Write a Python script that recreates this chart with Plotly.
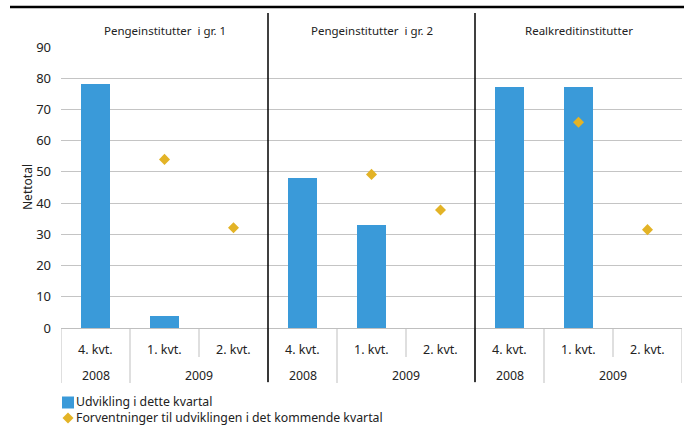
import plotly.graph_objects as go

# data
groups = ["Pengeinstitutter  i gr. 1", "Pengeinstitutter  i gr. 2", "Realkreditinstitutter"]
quarters = ["4. kvt.", "1. kvt.", "2. kvt."]
years = ["2008", "2009"]
udvikling = [78.3, 4.0, None, 48.2, 32.9, None, 77.3, 77.3, None]
forventninger = [None, 54.0, 32.1, None, 49.2, 37.8, None, 65.9, 31.5]
series_names = ["Udvikling i dette kvartal",
                "Forventninger til udviklingen i det kommende kvartal"]

BLUE = "#3a9ad9"
GOLD = "#e3b326"
FONT = "Noto Sans"
TXT = "#222"

x = list(range(len(groups) * len(quarters)))

fig = go.Figure()
fig.add_trace(go.Bar(x=x, y=udvikling, name=series_names[0], showlegend=False,
                     marker=dict(color=BLUE, line=dict(width=0)), width=0.41))
fig.add_trace(go.Scatter(x=x, y=forventninger, mode="markers", name=series_names[1],
                         showlegend=False,
                         marker=dict(symbol="diamond", size=8.5, color=GOLD)))

shapes = []
annotations = []
plot_w = 621.0
plot_h = 281.0


def py(pix):
    # pixel row -> paper y
    return (328 - pix) / plot_h


def px_(pix):
    # pixel column -> paper x
    return (pix - 61) / plot_w


def label(xv, row, text, size=12.5, xref="x"):
    return dict(x=xv, y=py(row), xref=xref, yref="paper", text=text,
                xanchor="center", yanchor="middle", showarrow=False,
                font=dict(size=size, color=TXT))


# group titles, quarter / year labels and separators under the axis
for g, gname in enumerate(groups):
    base = g * 3
    annotations.append(label(base + 1, 30, gname, size=11.5))
    for q, qname in enumerate(quarters):
        annotations.append(label(base + q, 349, qname))
    annotations.append(label(base, 376, years[0], size=12.3))
    annotations.append(label(base + 1.5, 376, years[1], size=12.3))
    # long at year boundaries, short between quarters of the same year
    for b, bottom in [(base - 0.5, 383), (base + 0.5, 383), (base + 1.5, 357)]:
        shapes.append(dict(type="line", xref="x", yref="paper", x0=b, x1=b,
                           y0=0, y1=py(bottom), line=dict(color="#bfbfbf", width=1)))
shapes.append(dict(type="line", xref="x", yref="paper", x0=8.5, x1=8.5,
                   y0=0, y1=py(383), line=dict(color="#bfbfbf", width=1)))

# black dividers between institution groups
for b in [2.5, 5.5]:
    shapes.append(dict(type="line", xref="x", yref="paper", x0=b, x1=b,
                       y0=py(13), y1=py(382), line=dict(color="black", width=1.5)))

# top rule
shapes.append(dict(type="line", xref="paper", yref="paper", x0=px_(10), x1=px_(690),
                   y0=py(7), y1=py(7), line=dict(color="black", width=2.5)))

# legend drawn below the chart
shapes.append(dict(type="rect", xref="paper", yref="paper",
                   x0=px_(62), x1=px_(74), y0=py(396.5), y1=py(408.5),
                   fillcolor=BLUE, line=dict(width=0)))
dx, dy = 5.5 / plot_w, 5.5 / plot_h
cx, cy = px_(68), py(418)
shapes.append(dict(type="path", xref="paper", yref="paper",
                   path=f"M {cx - dx} {cy} L {cx} {cy + dy} L {cx + dx} {cy} L {cx} {cy - dy} Z",
                   fillcolor=GOLD, line=dict(width=0)))
annotations.append(dict(x=px_(75), y=py(409.5), xref="paper", yref="paper",
                        text="<br>".join(series_names), align="left",
                        xanchor="left", yanchor="middle", showarrow=False,
                        borderpad=0, font=dict(size=12.3, color=TXT)))

# y axis title
annotations.append(dict(x=px_(27), y=py(187), xref="paper", yref="paper", text="Nettotal",
                        textangle=-90, xanchor="center", yanchor="middle",
                        showarrow=False, font=dict(size=12, color=TXT)))

fig.update_layout(
    width=684, height=427,
    margin=dict(l=61, r=2, t=47, b=99, autoexpand=False),
    paper_bgcolor="white", plot_bgcolor="white",
    font=dict(family=FONT, size=12, color=TXT),
    showlegend=False,
    bargap=0,
    xaxis=dict(range=[-0.5, 8.5], showticklabels=False, showgrid=False, zeroline=False,
               showline=True, linecolor="#bfbfbf", linewidth=1, ticks=""),
    yaxis=dict(range=[0, 90], dtick=10, showgrid=True, gridcolor="#c4c4c4", gridwidth=1.2,
               zeroline=False, showline=False, ticks="", ticklabelstandoff=9,
               tickfont=dict(size=13)),
    shapes=shapes,
    annotations=annotations,
)

# the page's default body margin would push the figure 8px off
fig.write_html("out.html", config={"displayModeBar": False},
               post_script="document.body.style.margin = '0';")
